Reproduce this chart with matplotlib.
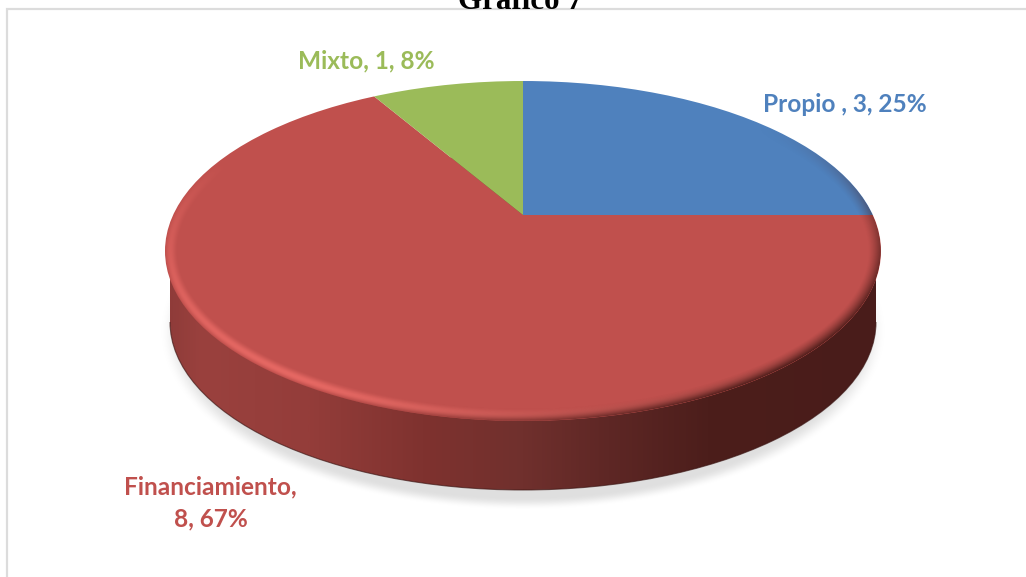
import numpy as np
import matplotlib
matplotlib.use("Agg")
import matplotlib.pyplot as plt
from matplotlib.patches import Ellipse, Rectangle, Arc
from matplotlib.colors import LinearSegmentedColormap
from matplotlib.path import Path

categories = ["Propio ", "Financiamiento", "Mixto"]
values = [3, 8, 1]
percents = [25, 67, 8]
colors = ["#4F81BD", "#C0504D", "#9BBB59"]
title = "Gráfico 7"

W, H = 1026, 577
CX, CY, RX, RY = 523, 251, 358, 170      # top face
BY, BRX, BRY = 322, 353, 168             # lower rim of the side wall
APEX_Y, SQUEEZE = 215, 0.46              # apex of the wedges, tilt of the disc

fig = plt.figure(figsize=(W / 100, H / 100), dpi=100, facecolor="white")

def layer(z):
    a = fig.add_axes([0, 0, 1, 1], zorder=z)
    a.set_xlim(0, W); a.set_ylim(H, 0); a.axis("off"); a.patch.set_alpha(0)
    return a

yy, xx = np.mgrid[0:H, 0:W] + 0.5
ext = (0, W, H, 0)

# ---- background layer: frame, shadow, side wall
bg = layer(1)
bg.text(520.5, 9, title, family="Liberation Serif", weight="bold", fontsize=22.3,
        ha="center", va="baseline", color="black")
bg.add_patch(Rectangle((6.5, 8.5), W + 20, H + 20, fc="white", ec="#DCDCDC", lw=1.6, zorder=2))

r_sh = np.sqrt(((xx - CX) / 363) ** 2 + ((yy - 331) / 179) ** 2)
t = np.clip((1.0 - r_sh) / 0.07, 0, 1)
t = t * t * (3 - 2 * t)
sh = np.zeros((H, W, 4)); sh[..., :3] = 0.80; sh[..., 3] = t * 0.62
bg.imshow(sh, extent=ext, zorder=3, aspect="auto", interpolation="bilinear")

wall_cmap = LinearSegmentedColormap.from_list("wall", [
    (0.000, "#8E3B39"), (0.05, "#9A413E"), (0.20, "#943D3A"), (0.36, "#7F322F"),
    (0.50, "#70302D"), (0.62, "#5E2725"), (0.76, "#4C1E1B"), (1.00, "#491C1A")])
grad = np.linspace(0, 1, 512)[None, :]
im = bg.imshow(grad, extent=(CX - RX, CX + RX, H, 0), cmap=wall_cmap, aspect="auto", zorder=4)
lower = Ellipse((CX, BY), 2 * BRX, 2 * BRY)
band = Rectangle((CX - BRX, CY), 2 * BRX, BY - CY)
wall_path = Path.make_compound_path(
    lower.get_path().transformed(lower.get_patch_transform()),
    band.get_path().transformed(band.get_patch_transform()))
im.set_clip_path(wall_path, bg.transData)
bg.set_xlim(0, W); bg.set_ylim(H, 0)
# thin dark edge along the lower rim
bg.add_patch(Arc((CX, BY), 2 * BRX, 2 * BRY, theta1=0, theta2=180, ec="#3A1513", lw=0.8,
                 alpha=0.65, zorder=5))

# ---- pie layer
pa = fig.add_axes([0, 0, 1, 1], zorder=2)
wedges, _ = pa.pie(values, colors=colors, startangle=90, counterclock=False,
                   radius=1300, center=(0, 0), wedgeprops={"linewidth": 0})
pa.set_aspect("auto")
pa.set_xlim(-CX, W - CX)
pa.set_ylim(-(H - APEX_Y) / SQUEEZE, APEX_Y / SQUEEZE)
pa.axis("off"); pa.patch.set_alpha(0)
clip = Ellipse((0, -(CY - APEX_Y) / SQUEEZE), 2 * RX, 2 * RY / SQUEEZE, transform=pa.transData)
for w in wedges:
    w.set_clip_on(True)
    w.set_clip_path(clip)

# ---- bevel + labels layer
top = layer(3)
nx = (xx - CX) / RX
ny = (yy - CY) / RY
r = np.sqrt(nx ** 2 + ny ** 2) + 1e-6
gradmag = np.sqrt((nx / RX) ** 2 + (ny / RY) ** 2) / r + 1e-9
dist = (1 - r) / gradmag                 # approx. pixels inside the outline
ang = np.arctan2(ny, nx)                 # +pi/2 = bottom, pi = left, 0 = right
band_px = 13.0
u = np.clip(1 - dist / band_px, 0, 1)
profile = np.sin(np.pi * u ** 1.3) ** 1.3
inside = np.clip(dist * 1.5, 0, 1)
light = np.clip(np.cos((ang % (2 * np.pi)) - np.radians(122)), 0, 1) ** 0.9
dark = np.clip(np.cos(ang - np.radians(40)), 0, 1) ** 1.6
ov = np.zeros((H, W, 4))
ov[..., 0] = 0.92; ov[..., 1] = 0.42; ov[..., 2] = 0.40
ov[..., 3] = profile * light * 0.9 * inside
dk = np.zeros((H, W, 4))
dk[..., 0] = 0.27; dk[..., 1] = 0.10; dk[..., 2] = 0.09
dk[..., 3] = u ** 1.4 * dark * 0.95 * inside
top.imshow(ov, extent=ext, aspect="auto", interpolation="bilinear", zorder=1)
top.imshow(dk, extent=ext, aspect="auto", interpolation="bilinear", zorder=2)
top.set_xlim(0, W); top.set_ylim(H, 0)

def lab(i, sep=", "):
    return f"{categories[i]},{' ' if sep == ', ' else chr(10)}{values[i]}, {percents[i]}%"

font = dict(family="Lato", weight="bold", fontsize=17.6, ha="center", va="center", zorder=5)
top.text(844.5, 105, lab(0), color=colors[0], **font)
top.text(366, 60.5, lab(2), color=colors[2], **font)
top.text(210.5, 503, lab(1, "\n"), color=colors[1], linespacing=1.48, **font)

fig.savefig("out.png", dpi=100, facecolor="white")
